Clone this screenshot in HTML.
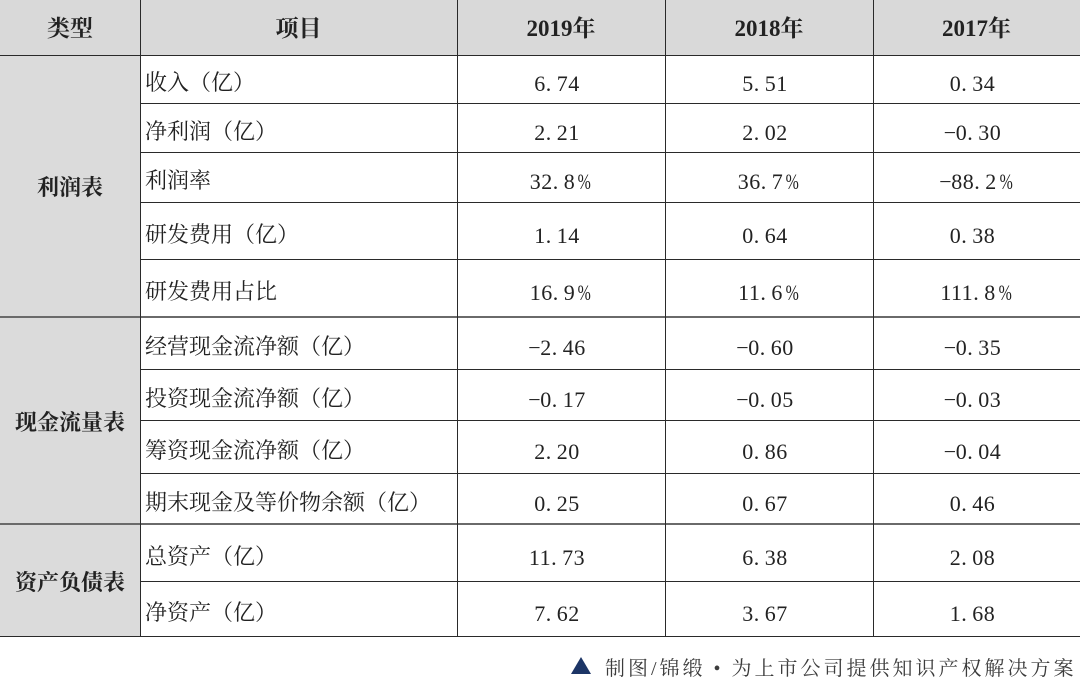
<!DOCTYPE html>
<html>
<head>
<meta charset="utf-8">
<style>
  html,body{margin:0;padding:0;background:#fff;}
  body{width:1080px;height:693px;position:relative;overflow:hidden;
    font-family:"Liberation Serif","Noto Serif CJK SC",serif;color:#222;}
  .bg{position:absolute;background:#d9d9d9;}
  .h{position:absolute;height:1px;background:#2a2a2a;}
  .hg{position:absolute;height:2px;background:#6a6a6a;}
  .v{position:absolute;width:1px;background:#2a2a2a;top:0;height:637px;}
  .c{position:absolute;text-align:center;white-space:nowrap;}
  .hd{font-weight:bold;font-size:23px;}
  .grp{font-weight:bold;font-size:22px;font-family:"Liberation Serif","Noto Serif CJK SC",serif;}
  .it{position:absolute;left:145px;white-space:nowrap;font-size:22px;font-family:"Liberation Serif","Noto Serif CJK SC",serif;}
  .n{font-family:"Liberation Serif",serif;font-size:22px;letter-spacing:0.5px;}
  .n i{display:inline-block;width:11px;font-style:normal;text-align:left;}
  .n b{display:inline-block;width:13px;font-weight:normal;text-align:center;}
  .n b span{display:inline-block;transform:scaleX(0.72);}
  .n s{display:inline-block;width:12px;text-decoration:none;text-align:center;}
  .foot{position:absolute;left:605px;top:652px;font-size:20px;letter-spacing:3px;color:#3c3c3c;
    font-family:"Liberation Serif","Noto Serif CJK SC",serif;white-space:nowrap;}
  .tri{position:absolute;left:571px;top:657px;width:0;height:0;border-left:10px solid transparent;border-right:10px solid transparent;border-bottom:17px solid #1c3566;}
</style>
</head>
<body>
  <div class="bg" style="left:0;top:0;width:1080px;height:55px;"></div>
  <div class="bg" style="left:0;top:55px;width:140px;height:581px;background:#dbdbdb;"></div>

  <div class="h" style="left:0;top:55px;width:1080px;"></div>
  <div class="h" style="left:140px;top:103px;width:940px;"></div>
  <div class="h" style="left:140px;top:152px;width:940px;"></div>
  <div class="h" style="left:140px;top:202px;width:940px;"></div>
  <div class="h" style="left:140px;top:259px;width:940px;"></div>
  <div class="hg" style="left:0;top:316px;width:1080px;"></div>
  <div class="h" style="left:140px;top:369px;width:940px;"></div>
  <div class="h" style="left:140px;top:420px;width:940px;"></div>
  <div class="h" style="left:140px;top:473px;width:940px;"></div>
  <div class="hg" style="left:0;top:523px;width:1080px;"></div>
  <div class="h" style="left:140px;top:581px;width:940px;"></div>
  <div class="h" style="left:0;top:636px;width:1080px;"></div>

  <div class="v" style="left:140px;"></div>
  <div class="v" style="left:457px;"></div>
  <div class="v" style="left:665px;"></div>
  <div class="v" style="left:873px;"></div>

  <div class="c hd" style="left:0;width:140px;top:1px;height:55px;line-height:55px;">类型</div>
  <div class="c hd" style="left:140px;width:317px;top:1px;height:55px;line-height:55px;">项目</div>
  <div class="c hd" style="left:457px;width:208px;top:1px;height:55px;line-height:55px;">2019年</div>
  <div class="c hd" style="left:665px;width:208px;top:1px;height:55px;line-height:55px;">2018年</div>
  <div class="c hd" style="left:873px;width:207px;top:1px;height:55px;line-height:55px;">2017年</div>

  <div class="c grp" style="left:0;width:140px;top:171px;line-height:34px;">利润表</div>
  <div class="c grp" style="left:0;width:140px;top:406px;line-height:34px;">现金流量表</div>
  <div class="c grp" style="left:0;width:140px;top:566px;line-height:34px;">资产负债表</div>

  <!-- row 1 -->
  <div class="it" style="top:60px;line-height:46px;">收入（亿）</div>
  <div class="c n" style="left:453px;width:208px;top:61px;line-height:46px;">6<i>.</i>74</div>
  <div class="c n" style="left:661px;width:208px;top:61px;line-height:46px;">5<i>.</i>51</div>
  <div class="c n" style="left:869px;width:207px;top:61px;line-height:46px;">0<i>.</i>34</div>

  <!-- row 2 -->
  <div class="it" style="top:108px;line-height:47px;">净利润（亿）</div>
  <div class="c n" style="left:453px;width:208px;top:109px;line-height:47px;">2<i>.</i>21</div>
  <div class="c n" style="left:661px;width:208px;top:109px;line-height:47px;">2<i>.</i>02</div>
  <div class="c n" style="left:869px;width:207px;top:109px;line-height:47px;"><s>−</s>0<i>.</i>30</div>

  <!-- row 3 -->
  <div class="it" style="top:157px;line-height:48px;">利润率</div>
  <div class="c n" style="left:455px;width:208px;top:158px;line-height:48px;">32<i>.</i>8<b><span>%</span></b></div>
  <div class="c n" style="left:663px;width:208px;top:158px;line-height:48px;">36<i>.</i>7<b><span>%</span></b></div>
  <div class="c n" style="left:871px;width:207px;top:158px;line-height:48px;"><s>−</s>88<i>.</i>2<b><span>%</span></b></div>

  <!-- row 4 -->
  <div class="it" style="top:207px;line-height:55px;">研发费用（亿）</div>
  <div class="c n" style="left:453px;width:208px;top:208px;line-height:55px;">1<i>.</i>14</div>
  <div class="c n" style="left:661px;width:208px;top:208px;line-height:55px;">0<i>.</i>64</div>
  <div class="c n" style="left:869px;width:207px;top:208px;line-height:55px;">0<i>.</i>38</div>

  <!-- row 5 -->
  <div class="it" style="top:264px;line-height:56px;">研发费用占比</div>
  <div class="c n" style="left:455px;width:208px;top:265px;line-height:56px;">16<i>.</i>9<b><span>%</span></b></div>
  <div class="c n" style="left:663px;width:208px;top:265px;line-height:56px;">11<i>.</i>6<b><span>%</span></b></div>
  <div class="c n" style="left:871px;width:207px;top:265px;line-height:56px;">111<i>.</i>8<b><span>%</span></b></div>

  <!-- row 6 -->
  <div class="it" style="top:322px;line-height:50px;">经营现金流净额（亿）</div>
  <div class="c n" style="left:453px;width:208px;top:323px;line-height:50px;"><s>−</s>2<i>.</i>46</div>
  <div class="c n" style="left:661px;width:208px;top:323px;line-height:50px;"><s>−</s>0<i>.</i>60</div>
  <div class="c n" style="left:869px;width:207px;top:323px;line-height:50px;"><s>−</s>0<i>.</i>35</div>

  <!-- row 7 -->
  <div class="it" style="top:374px;line-height:49px;">投资现金流净额（亿）</div>
  <div class="c n" style="left:453px;width:208px;top:375px;line-height:49px;"><s>−</s>0<i>.</i>17</div>
  <div class="c n" style="left:661px;width:208px;top:375px;line-height:49px;"><s>−</s>0<i>.</i>05</div>
  <div class="c n" style="left:869px;width:207px;top:375px;line-height:49px;"><s>−</s>0<i>.</i>03</div>

  <!-- row 8 -->
  <div class="it" style="top:425px;line-height:51px;">筹资现金流净额（亿）</div>
  <div class="c n" style="left:453px;width:208px;top:426px;line-height:51px;">2<i>.</i>20</div>
  <div class="c n" style="left:661px;width:208px;top:426px;line-height:51px;">0<i>.</i>86</div>
  <div class="c n" style="left:869px;width:207px;top:426px;line-height:51px;"><s>−</s>0<i>.</i>04</div>

  <!-- row 9 -->
  <div class="it" style="top:478px;line-height:49px;">期末现金及等价物余额（亿）</div>
  <div class="c n" style="left:453px;width:208px;top:479px;line-height:49px;">0<i>.</i>25</div>
  <div class="c n" style="left:661px;width:208px;top:479px;line-height:49px;">0<i>.</i>67</div>
  <div class="c n" style="left:869px;width:207px;top:479px;line-height:49px;">0<i>.</i>46</div>

  <!-- row 10 -->
  <div class="it" style="top:529px;line-height:55px;">总资产（亿）</div>
  <div class="c n" style="left:453px;width:208px;top:530px;line-height:55px;">11<i>.</i>73</div>
  <div class="c n" style="left:661px;width:208px;top:530px;line-height:55px;">6<i>.</i>38</div>
  <div class="c n" style="left:869px;width:207px;top:530px;line-height:55px;">2<i>.</i>08</div>

  <!-- row 11 -->
  <div class="it" style="top:586px;line-height:53px;">净资产（亿）</div>
  <div class="c n" style="left:453px;width:208px;top:587px;line-height:53px;">7<i>.</i>62</div>
  <div class="c n" style="left:661px;width:208px;top:587px;line-height:53px;">3<i>.</i>67</div>
  <div class="c n" style="left:869px;width:207px;top:587px;line-height:53px;">1<i>.</i>68</div>

  <div class="tri"></div>
  <div class="foot">制图/锦缎 • 为上市公司提供知识产权解决方案</div>
</body>
</html>
